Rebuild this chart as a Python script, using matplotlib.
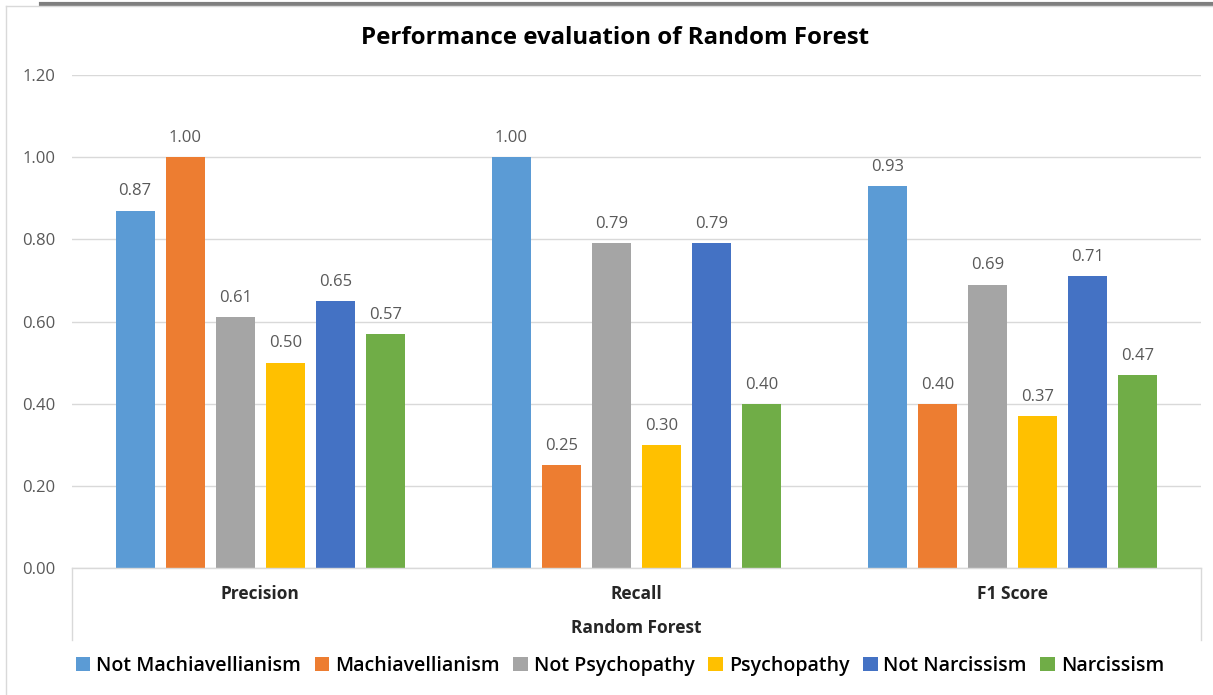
import numpy as np
import matplotlib.pyplot as plt
from matplotlib.lines import Line2D

plt.rcParams['font.family'] = ['Open Sans', 'DejaVu Sans']

metrics = ["Precision", "Recall", "F1 Score"]
classes = ["Not Machiavellianism", "Machiavellianism", "Not Psychopathy",
           "Psychopathy", "Not Narcissism", "Narcissism"]
not_mach = [0.87, 1.00, 0.93]
mach = [1.00, 0.25, 0.40]
not_psych = [0.61, 0.79, 0.69]
psych = [0.50, 0.30, 0.37]
not_narc = [0.65, 0.79, 0.71]
narc = [0.57, 0.40, 0.47]
series = [not_mach, mach, not_psych, psych, not_narc, narc]
colors = ["#5B9BD5", "#ED7D31", "#A5A5A5", "#FFC000", "#4472C4", "#70AD47"]
yticks = [0.0, 0.2, 0.4, 0.6, 0.8, 1.0, 1.2]

W, H = 1213, 695
fig = plt.figure(figsize=(W / 100, H / 100), dpi=100)
ax = fig.add_axes([72 / W, 1 - 568 / H, (1201 - 72) / W, (568 - 75) / H])

x = np.arange(len(metrics))
step = 50 / 376
width = 39 / 376
for i, (vals, col, name) in enumerate(zip(series, colors, classes)):
    bars = ax.bar(x + (i - 2.5) * step, vals, width, color=col, label=name, zorder=3)
    ax.bar_label(bars, fmt="%.2f", padding=8, fontsize=12, color="#595959")

ax.set_xlim(-0.5, 2.5)
ax.set_ylim(0, 1.2)
ax.set_yticks(yticks)
ax.set_yticklabels(["%.2f" % t for t in yticks], fontsize=12, color="#595959")
ax.tick_params(axis="y", length=0, pad=12)
ax.set_xticks(x)
ax.set_xticklabels(metrics, fontsize=12.5, fontweight="bold", color="#262626")
ax.tick_params(axis="x", length=0, pad=12)
ax.grid(axis="y", color="#D9D9D9", lw=1, zorder=0)
for s in ax.spines.values():
    s.set_visible(False)

# multi-level category axis box
box_b = -(640 - 568) / (568 - 75)
for xs, ys in [([0, 1], [0, 0]), ([0, 0], [0, box_b]), ([1, 1], [0, box_b])]:
    ax.add_line(Line2D(xs, ys, transform=ax.transAxes, color="#D9D9D9", lw=1,
                       clip_on=False, zorder=4))
ax.text(0.5, -(628 - 568) / (568 - 75), "Random Forest", transform=ax.transAxes,
        ha="center", va="center", fontsize=12.5, fontweight="bold", color="#262626")

fig.text(615 / W, 1 - 38 / H, "Performance evaluation of Random Forest",
         ha="center", va="center", fontsize=17.3, fontweight="bold", color="#000000")

# frame details of the screenshot
fig.add_artist(Line2D([41 / W, 1], [1 - 3.5 / H, 1 - 3.5 / H], color="#7F7F7F", lw=3))
fig.add_artist(Line2D([6 / W, 6 / W], [0, 1 - 6 / H], color="#D9D9D9", lw=1))
fig.add_artist(Line2D([6 / W, 1], [1 - 6 / H, 1 - 6 / H], color="#D9D9D9", lw=1))

leg = fig.legend(loc="center", bbox_to_anchor=(620 / W, 1 - 666 / H), ncol=6,
                 frameon=False, handlelength=0.75, handleheight=0.75,
                 handletextpad=0.3, columnspacing=0.7,
                 prop={"size": 14, "weight": "semibold"})
for t in leg.get_texts():
    t.set_color("#000000")

fig.savefig("out.png", dpi=100)
